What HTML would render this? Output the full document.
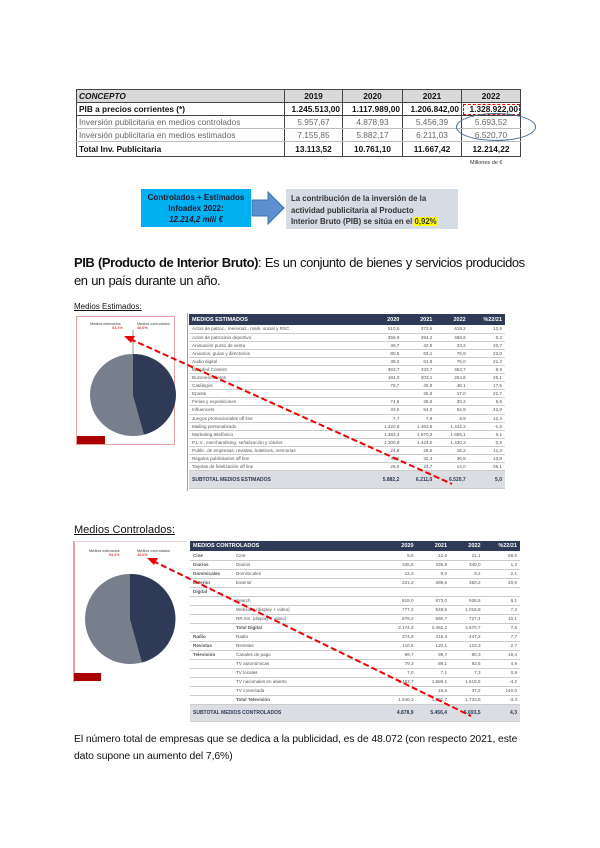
<!DOCTYPE html>
<html><head><meta charset="utf-8"><style>
*{margin:0;padding:0;box-sizing:border-box}
body{width:600px;height:848px;background:#fff;position:relative;overflow:hidden;font-family:"Liberation Sans",sans-serif;color:#111}
.a{position:absolute}
table{border-collapse:collapse;position:absolute}
.t1 td{border:1.5px solid #444;font-size:8.3px;height:13px;padding:0 2px;text-align:right;white-space:nowrap}
.t1 td:first-child{text-align:left}
.t1 .g td{color:#666;font-weight:normal;border-top:1px solid #bbb;border-bottom:1px solid #bbb}
.t1 .b td{font-weight:bold}
.tb td{font-size:4.6px;color:#555;padding:0 3px;white-space:nowrap;border-bottom:0.6px solid #ccc;text-align:right}
.tb td:first-child{text-align:left}
.tb .h td{background:#2e3a56;color:#fff;font-weight:bold;font-size:5.5px;border:none}
.tb .s td{background:#dcdde2;color:#2e3a56;font-weight:bold;font-size:5px}
</style></head><body>

<table class="t1" style="left:76px;top:89px;width:445px">
<tr class="b" style="background:#d9d9d9"><td style="width:208px;font-style:italic">CONCEPTO</td><td style="text-align:center;width:58px">2019</td><td style="text-align:center;width:60px">2020</td><td style="text-align:center;width:59px">2021</td><td style="text-align:center">2022</td></tr>
<tr class="b"><td>PIB a precios corrientes (*)</td><td>1.245.513,00</td><td>1.117.989,00</td><td>1.206.842,00</td><td style="outline:1.5px dashed #e00;outline-offset:-2px">1.328.922,00</td></tr>
<tr class="g"><td>Inversión publicitaria en medios controlados</td><td style="text-align:center">5.957,67</td><td style="text-align:center">4.878,93</td><td style="text-align:center">5.456,39</td><td style="text-align:center">5.693,52</td></tr>
<tr class="g"><td>Inversión publicitaria en medios estimados</td><td style="text-align:center">7.155,85</td><td style="text-align:center">5.882,17</td><td style="text-align:center">6.211,03</td><td style="text-align:center">6.520,70</td></tr>
<tr class="b"><td style="height:15px">Total Inv. Publicitaria</td><td style="text-align:center">13.113,52</td><td style="text-align:center">10.761,10</td><td style="text-align:center">11.667,42</td><td style="text-align:center">12.214,22</td></tr>
</table>
<div class="a" style="left:456px;top:113px;width:80px;height:28px;border:1.5px solid #41699e;border-radius:50%"></div>
<div class="a" style="left:470px;top:160px;font-size:5.5px;color:#333">Millones de €</div>

<div class="a" style="left:141px;top:189px;width:110px;height:38px;background:#00b0f0;font-size:8px;font-weight:bold;text-align:center;line-height:11px;padding-top:3px;color:#1a1a2e">Controlados + Estimados<br>Infoadex 2022:<br><i>12.214,2 mill €</i></div>
<svg class="a" style="left:250px;top:190px" width="36" height="36"><polygon points="2,10 18,10 18,2 34,18 18,34 18,26 2,26" fill="#5b8fd0" stroke="#3f73b0"/></svg>
<div class="a" style="left:286px;top:189px;width:172px;height:40px;background:#d6dce5;font-size:7.8px;font-weight:bold;line-height:11.5px;padding:4px 0 0 5px;color:#333;white-space:nowrap">La contribución de la inversión de la<br>actividad publicitaria al Producto<br>Interior Bruto (PIB) se sitúa en el <span style="background:#ff0">0,92%</span></div>

<div class="a" style="left:74px;top:254px;font-size:13px;letter-spacing:-0.45px;word-spacing:0.5px;line-height:18px;white-space:nowrap"><b>PIB (Producto de Interior Bruto)</b>: Es un conjunto de bienes y servicios producidos<br>en un país durante un año.</div>

<div class="a" style="left:74px;top:302px;font-size:8px;text-decoration:underline">Medios Estimados:</div>
<div class="a" style="left:76px;top:316px;width:99px;height:129px;border:1px solid #e8a0a0"></div>
<div class="a" style="left:77px;top:436px;width:28px;height:8px;background:#a00"></div>
<div class="a" style="left:90px;top:322px;font-size:3.8px;color:#444">Medios estimados<br><span style="color:#c00;padding-left:22px">53,4%</span></div>
<div class="a" style="left:137px;top:322px;font-size:3.8px;color:#444">Medios controlados<br><span style="color:#c00">46,6%</span></div>
<svg class="a" style="left:0;top:0" width="600" height="848">
<ellipse cx="133" cy="395" rx="43" ry="41" fill="#777e8c"/>
<path d="M133,395 L133,354 A43,41 0 0 1 144,434.6 Z" fill="#2e3a56"/>
<line x1="133" y1="354" x2="133" y2="330" stroke="#555" stroke-width="0.6"/>
<ellipse cx="130" cy="619" rx="45" ry="45" fill="#777e8c"/>
<path d="M130,619 L130,574 A45,45 0 0 1 142,662.5 Z" fill="#2e3a56"/>
</svg>

<div class="a" style="left:187px;top:313px;width:1px;height:178px;background:#d88"></div>
<table class="tb" style="left:189px;top:314px;width:316px">
<tr class="h" style="height:11px"><td>MEDIOS ESTIMADOS</td><td>2020</td><td>2021</td><td>2022</td><td>%22/21</td></tr>
<tr style="height:8.1px"><td style="width:180px">Actos de patroc., mecenaz., mark. social y RSC</td><td>510,5</td><td>372,6</td><td>419,2</td><td>12,5</td></tr>
<tr style="height:8.1px"><td>Actos de patrocinio deportivo</td><td>356,9</td><td>294,2</td><td>468,6</td><td>6,2</td></tr>
<tr style="height:8.1px"><td>Animación punto de venta</td><td>49,7</td><td>42,9</td><td>33,2</td><td>20,7</td></tr>
<tr style="height:8.1px"><td>Anuarios, guías y directorios</td><td>80,5</td><td>63,1</td><td>76,9</td><td>22,0</td></tr>
<tr style="height:8.1px"><td>Audio digital</td><td>38,0</td><td>61,8</td><td>75,0</td><td>21,4</td></tr>
<tr style="height:8.1px"><td>Branded Content</td><td>363,7</td><td>433,7</td><td>453,7</td><td>8,9</td></tr>
<tr style="height:8.1px"><td>Buzoneo/folletos</td><td>184,0</td><td>203,1</td><td>254,6</td><td>25,1</td></tr>
<tr style="height:8.1px"><td>Catálogos</td><td>78,7</td><td>40,9</td><td>48,1</td><td>17,6</td></tr>
<tr style="height:8.1px"><td>Eposts</td><td></td><td>25,9</td><td>17,0</td><td>21,7</td></tr>
<tr style="height:8.1px"><td>Ferias y exposiciones</td><td>74,6</td><td>28,6</td><td>30,2</td><td>5,6</td></tr>
<tr style="height:8.1px"><td>Influencers</td><td>33,6</td><td>54,0</td><td>54,9</td><td>42,8</td></tr>
<tr style="height:8.1px"><td>Juegos promocionales off line</td><td>7,7</td><td>7,8</td><td>8,9</td><td>12,3</td></tr>
<tr style="height:8.1px"><td>Mailing personalizado</td><td>1.420,6</td><td>1.463,6</td><td>1.442,2</td><td>-1,5</td></tr>
<tr style="height:8.1px"><td>Marketing telefónico</td><td>1.383,4</td><td>1.570,3</td><td>1.655,1</td><td>6,1</td></tr>
<tr style="height:8.1px"><td>P.L.V., merchandising, señalización y rótulos</td><td>1.300,9</td><td>1.424,0</td><td>1.430,3</td><td>0,5</td></tr>
<tr style="height:8.1px"><td>Public. de empresas: revistas, boletines, memorias</td><td>24,8</td><td>25,5</td><td>18,2</td><td>11,3</td></tr>
<tr style="height:8.1px"><td>Regalos publicitarios off line</td><td>35,0</td><td>32,4</td><td>36,8</td><td>13,8</td></tr>
<tr style="height:8.1px"><td>Tarjetas de fidelización off line</td><td>28,0</td><td>24,7</td><td>14,0</td><td>-35,1</td></tr>
<tr class="s" style="height:18px"><td>SUBTOTAL MEDIOS ESTIMADOS</td><td>5.882,2</td><td>6.211,0</td><td>6.520,7</td><td>5,0</td></tr>
</table>

<div class="a" style="left:74px;top:524px;font-size:11px;text-decoration:underline">Medios Controlados:</div>
<div class="a" style="left:73px;top:541px;width:114px;height:141px;border-left:2px solid #e8a0a0;border-top:1px solid #f3d0d0"></div>
<div class="a" style="left:74px;top:673px;width:27px;height:8px;background:#a00"></div>
<div class="a" style="left:89px;top:549px;font-size:3.8px;color:#444;text-align:right">Medios estimados<br><span style="color:#c00">54,4%</span></div>
<div class="a" style="left:137px;top:549px;font-size:3.8px;color:#444">Medios controlados<br><span style="color:#c00">46,6%</span></div>

<table class="tb" style="left:190px;top:541px;width:330px">
<tr class="h" style="height:10px"><td colspan="2">MEDIOS CONTROLADOS</td><td>2020</td><td>2021</td><td>2022</td><td>%22/21</td></tr>
<tr style="height:9px"><td style="width:43px;font-weight:bold">Cine</td><td style="text-align:left;width:150px">Cine</td><td>9,6</td><td>12,5</td><td>21,1</td><td>68,9</td></tr>
<tr style="height:9px"><td><b>Diarios</b></td><td style="text-align:left">Diarios</td><td>335,8</td><td>335,9</td><td>340,0</td><td>1,2</td></tr>
<tr style="height:9px"><td><b>Dominicales</b></td><td style="text-align:left">Dominicales</td><td>12,3</td><td>9,0</td><td>9,2</td><td>2,1</td></tr>
<tr style="height:9px"><td><b>Exterior</b></td><td style="text-align:left">Exterior</td><td>221,3</td><td>289,6</td><td>350,2</td><td>20,9</td></tr>
<tr style="height:9px"><td><b>Digital</b></td><td></td><td></td><td></td><td></td><td></td></tr>
<tr style="height:9px"><td></td><td style="text-align:left">Search</td><td>818,0</td><td>873,0</td><td>926,5</td><td>6,1</td></tr>
<tr style="height:9px"><td></td><td style="text-align:left">Websites (display + video)</td><td>777,2</td><td>948,5</td><td>1.016,8</td><td>7,2</td></tr>
<tr style="height:9px"><td></td><td style="text-align:left">RR.SS. (display + video)</td><td>579,2</td><td>660,7</td><td>727,4</td><td>10,1</td></tr>
<tr style="height:9px"><td></td><td style="text-align:left;font-weight:bold">Total Digital</td><td>2.174,3</td><td>2.482,2</td><td>2.670,7</td><td>7,6</td></tr>
<tr style="height:9px"><td><b>Radio</b></td><td style="text-align:left">Radio</td><td>374,9</td><td>415,4</td><td>447,2</td><td>7,7</td></tr>
<tr style="height:9px"><td><b>Revistas</b></td><td style="text-align:left">Revistas</td><td>110,5</td><td>120,1</td><td>123,3</td><td>2,7</td></tr>
<tr style="height:9px"><td><b>Televisión</b></td><td style="text-align:left">Canales de pago</td><td>99,7</td><td>99,7</td><td>80,3</td><td>19,4</td></tr>
<tr style="height:9px"><td></td><td style="text-align:left">TV autonómicas</td><td>79,3</td><td>88,1</td><td>92,5</td><td>4,9</td></tr>
<tr style="height:9px"><td></td><td style="text-align:left">TV locales</td><td>7,0</td><td>7,1</td><td>7,3</td><td>0,9</td></tr>
<tr style="height:9px"><td></td><td style="text-align:left">TV nacionales en abierto</td><td>1.453,7</td><td>1.586,1</td><td>1.519,5</td><td>-4,2</td></tr>
<tr style="height:9px"><td></td><td style="text-align:left">TV conectada</td><td></td><td>15,5</td><td>37,2</td><td>140,0</td></tr>
<tr style="height:9px"><td></td><td style="text-align:left;font-weight:bold">Total Televisión</td><td>1.640,3</td><td>1.801,7</td><td>1.733,8</td><td>-3,3</td></tr>
<tr class="s" style="height:17px"><td colspan="2">SUBTOTAL MEDIOS CONTROLADOS</td><td>4.878,9</td><td>5.456,4</td><td>5.693,5</td><td>4,3</td></tr>
</table>

<svg class="a" style="left:0;top:0" width="600" height="848">
<line x1="130" y1="339" x2="452" y2="484" stroke="#e00" stroke-width="2" stroke-dasharray="6,3"/>
<polygon points="124,336 135,336 131,343" fill="#e00"/>
<line x1="153" y1="561" x2="471" y2="716" stroke="#e00" stroke-width="2" stroke-dasharray="6,3"/>
<polygon points="147,558 158,558 154,565" fill="#e00"/>
</svg>

<div class="a" style="left:74px;top:731px;font-size:10.4px;line-height:17px;white-space:nowrap;letter-spacing:-0.1px">El número total de empresas que se dedica a la publicidad, es de 48.072 (con respecto 2021, este<br>dato supone un aumento del 7,6%)</div>
</body></html>
